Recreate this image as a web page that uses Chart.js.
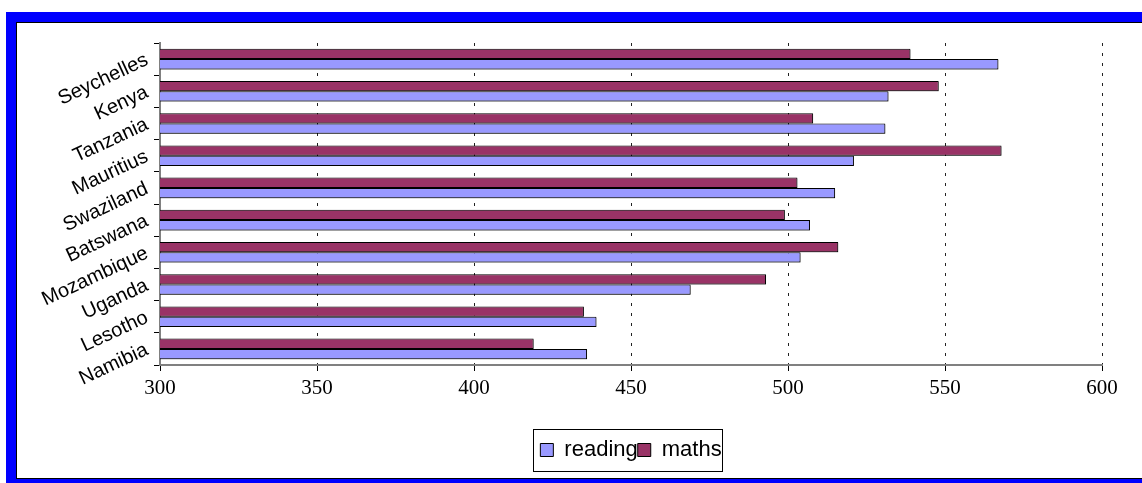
<!DOCTYPE html>
<html>
<head>
<meta charset="utf-8">
<script src="https://cdn.jsdelivr.net/npm/chart.js@4/dist/chart.umd.min.js"></script>
<style>
  html, body { margin: 0; padding: 0; background: #fff; overflow: hidden; width: 1142px; height: 483px; }
  #frame { position: absolute; left: 6px; top: 12px; width: 1300px; height: 600px; background: #0000ff; }
  #panel { position: absolute; left: 16px; top: 22px; width: 1300px; height: 457px; box-sizing: border-box;
           background: #fff; border-left: 1px solid #000; border-top: 1px solid #000; border-bottom: 1px solid #000; }
  #chart { position: absolute; left: 0; top: 0; }
</style>
</head>
<body>
<div id="frame"></div>
<div id="panel"><canvas id="chart" width="1125" height="455"></canvas></div>
<script>
// Country scores (reading and maths), listed top to bottom
const categories = ['Seychelles', 'Kenya', 'Tanzania', 'Mauritius', 'Swaziland',
                    'Batswana', 'Mozambique', 'Uganda', 'Lesotho', 'Namibia'];
const readingScores = [567, 532, 531, 521, 515, 507, 504, 469, 439, 436];
const mathsScores   = [539, 548, 508, 568, 503, 499, 516, 493, 435, 419];
const axisMin = 300, axisMax = 600, axisStep = 50;

// Thin rectangle drawn around the legend items
const legendFrame = {
  id: 'legendFrame',
  afterDraw(chart) {
    const lg = chart.legend;
    if (!lg || !lg.legendHitBoxes || !lg.legendHitBoxes.length) return;
    const boxes = lg.legendHitBoxes;
    const first = boxes[0], last = boxes[boxes.length - 1];
    const cy = first.top + first.height / 2;
    const x0 = Math.round(first.left - 7) + 0.5;
    const x1 = Math.round(last.left + last.width) + 0.5;
    const y0 = Math.round(cy - 21) + 0.5;
    const ctx = chart.ctx;
    ctx.save();
    ctx.strokeStyle = '#000';
    ctx.lineWidth = 1;
    ctx.strokeRect(x0, y0, x1 - x0, 42);
    ctx.restore();
  }
};

// Soft grey drop shadow under the bars
const barShadow = {
  id: 'barShadow',
  beforeDatasetsDraw(chart) {
    const ctx = chart.ctx;
    ctx.save();
    ctx.shadowColor = 'rgba(0,0,0,0.35)';
    ctx.shadowOffsetX = 1;
    ctx.shadowOffsetY = 1;
    ctx.shadowBlur = 0;
  },
  afterDatasetsDraw(chart) {
    chart.ctx.restore();
  }
};

new Chart(document.getElementById('chart'), {
  type: 'bar',
  data: {
    labels: categories,
    datasets: [
      { label: 'maths', data: mathsScores, backgroundColor: '#993366', borderColor: '#000', borderWidth: 1 },
      { label: 'reading', data: readingScores, backgroundColor: '#9999ff', borderColor: '#000', borderWidth: 1 }
    ]
  },
  options: {
    indexAxis: 'y',
    responsive: false,
    devicePixelRatio: 1,
    animation: false,
    events: [],
    categoryPercentage: 0.64,
    barPercentage: 1.0,
    layout: { padding: { top: 20, right: 40, left: 0, bottom: 7 } },
    scales: {
      x: {
        min: axisMin, max: axisMax,
        ticks: { stepSize: axisStep, color: '#000', padding: 5,
                 font: { family: '"Liberation Serif", "Times New Roman", serif', size: 21 } },
        grid: { color: '#222', lineWidth: 1, tickLength: 6, tickColor: '#000', tickBorderDash: [] },
        border: { display: true, color: '#808080', width: 2, dash: [3, 7] },
        afterFit(scale) { scale.height = 74; }
      },
      y: {
        ticks: { color: '#000', padding: 7, minRotation: 25, maxRotation: 25, autoSkip: false,
                 font: { family: '"Liberation Sans", Arial, sans-serif', size: 20 } },
        grid: { drawOnChartArea: false, offset: true, tickLength: 6, color: '#000' },
        border: { display: true, color: '#808080', width: 2 },
        afterFit(scale) { scale.width = 143; }
      }
    },
    plugins: {
      legend: {
        position: 'bottom',
        fullSize: false,
        reverse: true,
        labels: { boxWidth: 13, boxHeight: 13, padding: 0, color: '#000',
                  font: { family: '"Liberation Sans", Arial, sans-serif', size: 22 } }
      },
      tooltip: { enabled: false }
    }
  },
  plugins: [legendFrame, barShadow]
});
</script>
</body>
</html>
